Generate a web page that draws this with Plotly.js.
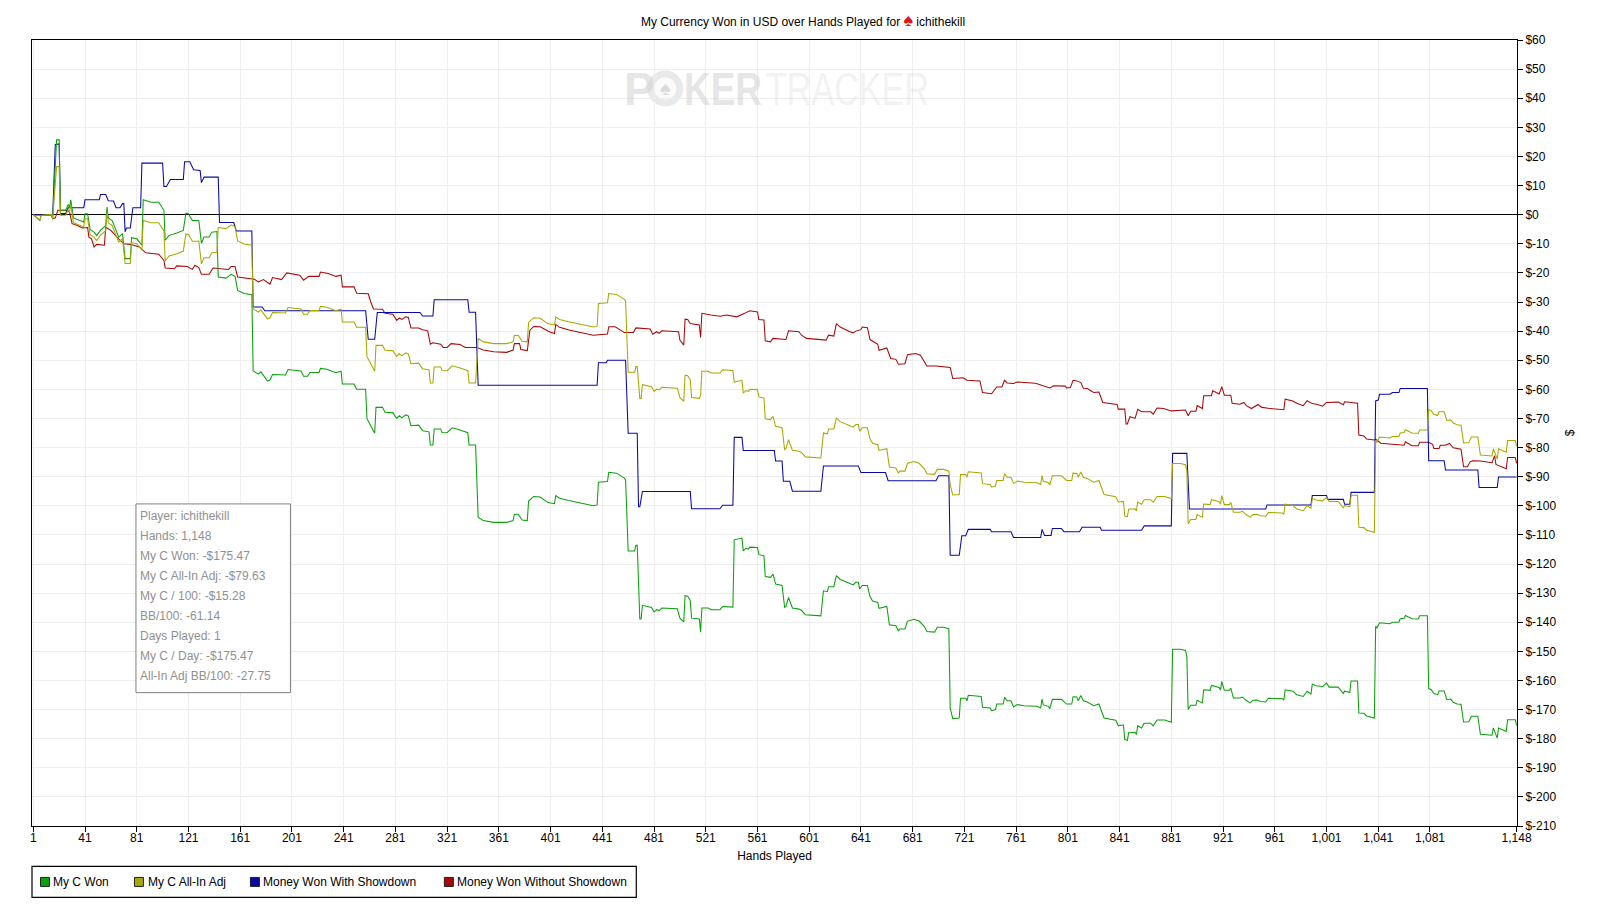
<!DOCTYPE html>
<html>
<head>
<meta charset="utf-8">
<script src="https://cdn.plot.ly/plotly-3.0.1.min.js"></script>
<style>html,body{margin:0;padding:0;background:#fff}#chart{width:1606px;height:913px}</style>
</head>
<body>
<div id="chart"></div>
<script>
const wonHands = [
1,6,7,15,16,19,21,22,26,28,29,30,32,36,40,41,43,45,48,50,53,57,58,59,62,65,67,70,72,76,77,81,85,
86,92,98,102,103,106,112,117,119,121,124,129,131,133,137,139,143,
144,150,154,157,159,164,170,
171,175,177,182,184,186,196,198,208,210,213,215,222,223,228,235,239,240,249,251,258,259,261,265,266,271,273,279,282,284,286,289,291,293,299,302,307,308,310,311,316,317,321,325,331,337,338,343,
345,349,357,367,372,373,376,379,383,384,388,393,399,404,405,408,415,427,434,437,438,445,446,452,458,459,461,466,467,468,
470,471,472,479,481,483,485,487,499,501,504,505,507,509,510,516,
517,518,523,525,532,534,542,
543,549,550,552,554,555,561,562,566,567,571,573,575,580,582,583,585,588,593,595,598,610,612,615,616,620,622,625,632,635,637,639,640,642,646,648,650,654,655,661,663,668,670,671,675,677,682,686,690,692,698,700,705,709,
710,712,717,718,722,723,724,734,735,741,742,745,746,751,752,754,757,759,762,767,777,780,781,782,786,787,789,796,800,804,805,808,809,811,813,816,821,825,829,838,840,844,845,847,848,853,854,855,858,860,865,867,870,876,881,
882,888,892,893,894,896,900,901,905,906,911,912,918,919,920,922,926,927,929,934,936,939,942,944,947,950,954,956,967,968,969,975,978,983,986,989,990,993,998,1001,1003,1010,1014,1015,1019,1020,1025,1026,1030,1032,1038,
1039,1040,1042,1050,1052,1057,1058,1061,1062,1067,1072,1073,1079,
1080,1082,1084,1087,1088,1092,1094,1097,1099,1102,1105,1107,1111,1113,1118,1120,1129,1130,1133,1134,1140,1141,1147,1148];
const myCWon = [
0,-2,-.3,0,-1.4,25.7,25.7,1.5,1.5,3.5,2.4,5.1,-1.1,-1.7,-2.5,.3,.3,-5.2,-6,-7.2,-5.3,-3.8,2.6,-1.1,-2,-5.4,-7.7,-6.5,-15.1,-15.1,-7.9,-8.3,-10.5,
5.1,4.3,4.3,1.5,-8.8,-7.1,-6.3,-5.4,.5,.3,-2,-2,-9.8,-7.7,-7.7,-6,-5.8,
-21.4,-21.8,-20.5,-21.2,-26,-27.1,-27.5,
-53.6,-54.8,-54,-57.1,-56.8,-54.9,-55.1,-53.2,-53.7,-55.5,-55.5,-54.2,-54.2,-52.8,-53.1,-54.3,-53.8,-58.2,-58.2,-60,-60,-70,-71.7,-75.1,-66.2,-66.2,-67.9,-68,-70,-69.1,-69.8,-68.8,-69.1,-72.5,-72.3,-74.2,-74.6,-79.1,-79.1,-73.6,-73.6,-74.8,-74.9,-73.2,-74,-74.9,-79.1,-79.1,
-103.9,-105.1,-105.7,-105.7,-105.1,-102.9,-102.9,-104.9,-105.1,-98.4,-96.8,-97,-98.9,-99.3,-96.5,-97.4,-98.2,-99.3,-100,-99.7,-91.9,-91.7,-88.5,-88.8,-90.5,-91.1,-115.5,-115.5,-113.6,-113.6,
-138.9,-138.9,-134.2,-134.9,-136.5,-135.7,-136,-135.1,-135.4,-138.6,-139.9,-130.9,-131.1,-132.5,-138.6,-138.9,
-143.4,-135.1,-135.1,-135.7,-135.7,-134.6,-134.8,
-111.7,-111.1,-115.5,-114.6,-114.9,-114.2,-114.3,-116.8,-117.2,-124.3,-124.6,-123.5,-126.9,-127.4,-134.9,-134.6,-131.5,-135.1,-135.5,-135.9,-137.4,-137.8,-129.2,-129.5,-127.8,-127.8,-124,-125.3,-126.6,-127.2,-126.3,-126.3,-128.6,-127.4,-127.4,-131.2,-132.7,-133.2,-135.2,-134.6,-140.9,-141.2,-143,-142.3,-142.3,-139.6,-139,-139.6,-141.5,-143.2,-143.4,-141.7,-141.7,-142.3,
-169.5,-173.1,-172.9,-166.1,-166.1,-167,-165.1,-165.5,-169.2,-169.5,-170.4,-170,-168.1,-168.1,-165.8,-167,-167,-169.1,-168.3,-168.7,-168.9,-169.5,-166.4,-168.4,-168.9,-169.7,-166.5,-166.5,-168.1,-168.1,-165.6,-165.7,-167,-165.2,-167,-167.4,-168.7,-168.1,-172.9,-173.7,-175.5,-175.3,-180.3,-180.6,-178,-177.8,-178.6,-175.5,-176.3,-174.7,-174.7,-175.6,-173.6,-173.6,-174.4,
-149.3,-149.3,-149.7,-151.7,-170,-168.5,-168.5,-166.8,-167.7,-163.2,-163.4,-161.7,-162.4,-163.3,-160.3,-163.4,-163.4,-162.6,-166,-166,-165.7,-166.9,-167.7,-166.8,-166.7,-167.2,-167.4,-166.1,-166.3,-166.8,-163.2,-163.7,-164.9,-165.5,-163.7,-164.7,-161.3,-161.8,-162.1,-160.9,-162.3,-162.3,-164.5,-163.7,-164.1,-160.2,-160.2,-171.2,-171.3,-172.2,-172.9,
-141.4,-142,-140.2,-140.5,-140,-140,-138.8,-138.6,-137.7,-138.8,-138.9,-137.8,-137.8,
-162.8,-163.2,-164.5,-164.9,-163.6,-163.6,-166.6,-166.4,-167.5,-168.1,-168.2,-174.3,-174.2,-172.3,-172.3,-178.5,-178.8,-176.3,-179.8,-176.3,-177.5,-173.5,-173.5,-175.47];
const myCAllInAdj = [
0,-2,-.3,0,-1.4,16.5,16.5,-.2,-.2,1.8,.7,3.4,-2.8,-3.4,-4.2,-1.4,-1.4,-6.9,-7.7,-8.9,-7,-5.5,.9,-2.8,-3.7,-7.1,-9.4,-8.2,-16.8,-16.8,-9.6,-10,-12.2,
-2,-2.8,-2.8,-5.6,-15.9,-14.2,-13.4,-12.5,-6.6,-6.8,-9.1,-9.1,-16.9,-14.8,-14.8,-13.1,-12.9,
-4.4,-4.8,-3.5,-4.2,-9,-10.1,-10.5,
-32.3,-33.5,-32.7,-35.8,-35.5,-33.6,-33.8,-31.9,-32.4,-34.2,-34.2,-32.9,-32.9,-31.5,-31.8,-33,-32.5,-36.9,-36.9,-38.7,-38.7,-48.7,-50.4,-53.8,-44.9,-44.9,-46.6,-46.7,-48.7,-47.8,-48.5,-47.5,-47.8,-51.2,-51,-52.9,-53.3,-57.8,-57.8,-52.3,-52.3,-53.5,-53.6,-51.9,-52.7,-53.6,-57.8,-57.8,
-42.5,-43.7,-44.3,-44.3,-43.7,-41.5,-41.5,-43.5,-43.7,-37,-35.4,-35.6,-37.5,-37.9,-35.1,-36,-36.8,-37.9,-38.6,-38.3,-30.5,-30.3,-27.1,-27.4,-29.1,-29.7,-54.1,-54.1,-52.2,-52.2,
-63.1,-63.1,-58.4,-59.1,-60.7,-59.9,-60.2,-59.3,-59.6,-62.8,-64.1,-55.1,-55.3,-56.7,-62.8,-63.1,
-62.1,-53.8,-53.8,-54.4,-54.4,-53.3,-53.5,
-57.5,-56.9,-61.3,-60.4,-60.7,-60,-60.1,-62.6,-63,-70.1,-70.4,-69.3,-72.7,-73.2,-80.7,-80.4,-77.3,-80.9,-81.3,-81.7,-83.2,-83.6,-75,-75.3,-73.6,-73.6,-69.8,-71.1,-72.4,-73,-72.1,-72.1,-74.4,-73.2,-73.2,-77,-78.5,-79,-81,-80.4,-86.7,-87,-88.8,-88.1,-88.1,-85.4,-84.8,-85.4,-87.3,-89,-89.2,-87.5,-87.5,-88.1,
-92.7,-96.3,-96.1,-89.3,-89.3,-90.2,-88.3,-88.7,-92.4,-92.7,-93.6,-93.2,-91.3,-91.3,-89,-90.2,-90.2,-92.3,-91.5,-91.9,-92.1,-92.7,-89.6,-91.6,-92.1,-92.9,-89.7,-89.7,-91.3,-91.3,-88.8,-88.9,-90.2,-88.4,-90.2,-90.6,-91.9,-91.3,-96.1,-96.9,-98.7,-98.5,-103.5,-103.8,-101.2,-101,-101.8,-98.7,-99.5,-97.9,-97.9,-98.8,-96.8,-96.8,-97.6,
-85.5,-85.5,-85.9,-87.9,-106.2,-104.7,-104.7,-103,-103.9,-99.4,-99.6,-97.9,-98.6,-99.5,-96.5,-99.6,-99.6,-98.8,-102.2,-102.2,-101.9,-103.1,-103.9,-103,-102.9,-103.4,-103.6,-102.3,-102.5,-103,-99.4,-99.9,-101.1,-101.7,-99.9,-100.9,-97.5,-98,-98.3,-97.1,-98.5,-98.5,-100.7,-99.9,-100.3,-96.4,-96.4,-107.4,-107.5,-108.4,-109.1,
-77.6,-78.2,-76.4,-76.7,-76.2,-76.2,-75,-74.8,-73.9,-75,-75.1,-74,-74,
-66.9,-67.3,-68.6,-69,-67.7,-67.7,-70.7,-70.5,-71.6,-72.2,-72.3,-78.4,-78.3,-76.4,-76.4,-82.6,-82.9,-80.4,-83.9,-80.4,-81.6,-77.6,-77.6,-79.63];

const showdownHands = [1,15,16,18,21,22,26,28,40,41,52,53,57,59,63,65,68,70,71,72,73,76,78,84,85,101,102,104,107,117,118,122,125,130,131,133,144,145,156,158,170,171,178,180,258,260,265,267,300,302,310,311,337,338,343,345,437,438,444,445,459,461,468,469,470,472,509,510,532,534,542,543,549,550,574,575,580,581,586,588,610,612,639,641,660,662,699,701,709,710,717,719,722,724,741,742,757,759,780,781,783,788,789,796,798,810,812,826,827,858,860,881,882,893,895,954,955,989,990,1001,1002,1014,1015,1019,1020,1038,1039,1041,1042,1050,1052,1057,1058,1079,1080,1092,1093,1118,1119,1133,1134,1148];
const wonWithShowdown = [0,0,-.2,24.1,24.3,.4,.4,2.4,2.4,5.1,5.1,6.9,6.9,4.8,4.7,2.4,2.4,3.8,3.8,-5.9,-4.6,-4.6,2.4,2.4,17.7,17.7,9.7,9.7,12.1,12.1,18.2,18.2,15.4,15.2,11,12.9,12.9,-2.7,-2.7,-5.6,-5.6,-31.7,-31.7,-33,-33,-42.8,-42.8,-33.6,-33.6,-34.8,-34.8,-29.2,-29.2,-33.5,-33.5,-58.6,-58.6,-50.9,-50.9,-50,-50,-75.1,-75.1,-100.3,-100.3,-95.1,-95.1,-101,-101,-99.8,-99.8,-76.5,-76.5,-81,-81,-84.6,-84.6,-91.6,-91.6,-95,-95,-86.3,-86.3,-88.6,-88.6,-91.4,-91.4,-89.7,-89.7,-117,-117,-110.3,-110.3,-108.1,-108.1,-108.9,-108.9,-110.9,-110.9,-108.1,-110.2,-110.2,-107.8,-107.8,-108.9,-108.9,-107.4,-107.4,-108.4,-108.4,-106.9,-106.9,-82,-82,-101.1,-101.1,-99.7,-99.7,-96.5,-96.5,-97.8,-97.8,-99.5,-99.5,-95.4,-95.4,-64,-63.7,-61.7,-61.7,-61.1,-61.1,-59.7,-59.7,-84.5,-84.5,-87.7,-87.7,-93.7,-93.7,-90.1,-90.1];

const noShowdownHands = [1,15,16,18,20,26,29,31,35,39,43,44,46,48,50,56,57,61,67,71,76,83,88,98,102,103,110,112,120,124,126,129,131,137,140,146,152,154,157,159,169,172,175,179,184,186,193,197,207,210,214,222,223,229,235,239,240,249,251,260,262,264,271,273,279,282,284,286,289,291,293,299,302,306,308,310,316,318,321,324,331,335,344,349,357,367,372,373,377,378,383,385,388,393,400,404,405,408,416,427,434,445,446,451,458,465,467,478,480,483,485,487,500,501,504,505,507,509,516,517,518,525,532,537,545,551,555,561,562,566,567,571,573,583,585,593,595,599,610,614,616,620,622,625,632,635,637,641,642,646,648,654,655,661,664,668,670,675,677,683,687,690,692,699,710,712,720,723,733,735,742,746,750,752,754,759,762,776,780,787,790,799,800,803,805,808,811,813,816,821,825,828,839,840,845,846,847,849,853,855,858,865,867,870,875,881,892,894,896,900,901,905,906,912,913,918,920,922,927,928,934,937,939,943,948,951,956,968,969,975,978,983,986,990,994,998,1001,1010,1014,1015,1025,1026,1030,1032,1038,1039,1043,1055,1061,1062,1067,1072,1073,1080,1083,1084,1088,1089,1093,1096,1099,1105,1107,1110,1112,1114,1120,1129,1131,1132,1135,1140,1141,1147,1148];
const wonWithoutShowdown = [0,0,-1.4,-1.1,1.5,1.5,.9,-3.1,-3.7,-4.6,-4.4,-7.7,-8.3,-11.1,-10.2,-10.5,-4.3,-5.4,-8.3,-10,-10.2,-11.1,-13.1,-13.6,-15.7,-18.3,-18.6,-17.6,-17.8,-18.8,-17.4,-18.2,-20.5,-20.5,-18.3,-18.6,-18.8,-17.8,-17.8,-21.4,-22,-22.2,-23.1,-22.3,-23.9,-21.6,-22.3,-20,-20.8,-22.5,-21.2,-21.2,-19.7,-20.2,-21.2,-20.8,-24.8,-24.8,-27,-27.2,-30,-32.4,-32.5,-33.9,-34.2,-36.3,-35.5,-36,-35.1,-35.3,-38.9,-38.9,-39.5,-39.9,-44.5,-44,-44.5,-45.6,-45.6,-44.3,-44.6,-45.6,-45.6,-46.5,-47.1,-47.3,-46.5,-44.3,-44.3,-46.3,-46.7,-39.7,-38.4,-38.5,-40.2,-40.8,-37.7,-38.7,-39.7,-40.8,-41.4,-41,-38.5,-38.5,-40.5,-40.5,-38.9,-39.3,-41.1,-40.2,-40.8,-39.9,-40.2,-43.1,-44.8,-35.9,-36,-37.4,-37.9,-42.2,-33.9,-34.5,-34.9,-34.5,-35.1,-33.9,-33,-33.4,-36,-36.2,-43.3,-43.7,-42.5,-42.9,-39.9,-40.2,-41.4,-42.5,-43.1,-43.1,-41.4,-41.7,-37.4,-38.6,-40.1,-40.6,-40,-39.5,-38.6,-38.8,-42.9,-44.5,-46.6,-45.8,-49.4,-49.7,-51.4,-51.2,-48.1,-47.7,-48.3,-50.3,-52,-52,-52.5,-56.3,-56,-56.9,-57.1,-61.1,-61.5,-59.2,-59.2,-56.9,-57.8,-58,-57.5,-57.9,-58.4,-59.5,-58.8,-58.9,-59.5,-59.4,-56.9,-57.1,-57.7,-59.6,-59.7,-61.1,-60.9,-64.5,-65.2,-66.8,-66.8,-71.9,-71.9,-69.4,-70,-66.9,-67.7,-67.7,-68.5,-66.4,-66.6,-67.4,-67.1,-69.1,-67.5,-67.5,-65.6,-66.6,-62.2,-62.2,-60.5,-61.6,-59.1,-62,-62,-64.8,-65.1,-64.5,-65.6,-66.6,-65.2,-66.2,-66.5,-67,-63.4,-64,-64.8,-65.6,-63.9,-64.9,-65.2,-65.8,-64.5,-64.4,-65.3,-64.3,-64.8,-75.7,-76,-77.1,-77.4,-77.1,-78.5,-78.9,-79.2,-78,-79.4,-79.4,-78.2,-78.2,-78.9,-80.3,-80.3,-79.2,-79.2,-78.6,-80.1,-80.6,-86.6,-86.6,-84.9,-84.5,-84.6,-85.2,-82.8,-85.8,-86.4,-87.3,-83.4,-83.4,-85.4];

const xTickVals = [1,41,81,121,161,201,241,281,321,361,401,441,481,521,561,601,641,681,721,761,801,841,881,921,961,1001,1041,1081,1148];
const xTickText = ['1','41','81','121','161','201','241','281','321','361','401','441','481','521','561','601','641','681','721','761','801','841','881','921','961','1,001','1,041','1,081','1,148'];
const yTickVals = [60,50,40,30,20,10,0,-10,-20,-30,-40,-50,-60,-70,-80,-90,-100,-110,-120,-130,-140,-150,-160,-170,-180,-190,-200,-210];
const yTickText = ['$60','$50','$40','$30','$20','$10','$0','$-10','$-20','$-30','$-40','$-50','$-60','$-70','$-80','$-90','$-100','$-110','$-120','$-130','$-140','$-150','$-160','$-170','$-180','$-190','$-200','$-210'];
const seriesNames = ['My C Won','My C All-In Adj','Money Won With Showdown','Money Won Without Showdown'];
const seriesColors = ['#0ca00c','#a8a800','#0808a8','#a80808'];
const summaryLines = ['Player: ichithekill','Hands: 1,148','My C Won: -$175.47','My C All-In Adj: -$79.63','My C / 100: -$15.28','BB/100: -61.14','Days Played: 1','My C / Day: -$175.47','All-In Adj BB/100: -27.75'];

const W = 1606, H = 913, L = 31.5, R = 1517, T = 39.5, B = 826.5;
const px = x => (x - L) / (R - L);
const py = y => (B - y) / (B - T);
const FONT = '"Liberation Sans", Arial, sans-serif';

const line = (name, x, y, color) => ({type:'scatter', mode:'lines', name, x, y, showlegend:false, hoverinfo:'skip',
  line:{color, width:1.05, shape:'linear'}});

const traces = [
  line(seriesNames[3], noShowdownHands, wonWithoutShowdown, seriesColors[3]),
  line(seriesNames[2], showdownHands, wonWithShowdown, seriesColors[2]),
  line(seriesNames[0], wonHands, myCWon, seriesColors[0]),
  line(seriesNames[1], wonHands, myCAllInAdj, seriesColors[1])
];

const rect = (x0,y0,x1,y1,lineColor,fill,layer,w) => ({type:'rect',xref:'paper',yref:'paper',x0:px(x0),x1:px(x1),y0:py(y0),y1:py(y1),
  line:{color:lineColor,width:w===undefined?1:w},fillcolor:fill,layer:layer||'above'});
const circle = (cx,cy,r,fill) => ({type:'circle',xref:'paper',yref:'paper',x0:px(cx-r),x1:px(cx+r),y0:py(cy-r),y1:py(cy+r),
  line:{width:0},fillcolor:fill,layer:'below'});

const shapes = [
  rect(135.5,504,290,693,'#808080','#ffffff','above',1),
  rect(31.5,867,636,898,'#000000','#ffffff','above',1.2),
  circle(665,88,18,'rgba(215,215,215,0.55)'),
  circle(665,88,11,'rgba(255,255,255,0.8)')
];
const legendSwatchX = [40,134,250,444];
const legendTextX = [53,147.5,263,457];
seriesNames.forEach((n,i)=>shapes.push(rect(legendSwatchX[i],878,legendSwatchX[i]+9,887,'#202020',seriesColors[i],'above',1)));

const note = (text,x,y,color,size,anchor,extra) => Object.assign({xref:'paper',yref:'paper',x:px(x),y:py(y),text,showarrow:false,
  xanchor:anchor||'left',yanchor:'middle',font:{family:FONT,size:size||12,color:color||'#000'},align:'left',borderpad:0,borderwidth:0},extra||{});

const annotations = [];
summaryLines.forEach((t,i)=>annotations.push(note(t,140,516+i*20,'#909090',12)));
seriesNames.forEach((n,i)=>annotations.push(note(n,legendTextX[i],883,'#000',12)));
const wmBold = {family:FONT,size:46,weight:700,color:'rgba(205,205,205,0.5)'};
const wmLight = {family:FONT,size:46,color:'rgba(205,205,205,0.25)'};
annotations.push(note('P',624,89,'',46,'left',{font:wmBold}));
annotations.push(note('♠',665,88,'rgba(205,205,205,0.7)',20,'center'));
annotations.push(note('KER',684,89,'',46,'left',{font:wmBold,width:78}));
annotations.push(note('TRACKER',766,89,'',46,'left',{font:wmLight,width:163}));

const layout = {
  width:W, height:H, paper_bgcolor:'#fff', plot_bgcolor:'#fff', showlegend:false,
  margin:{l:L, r:W-R, t:T, b:H-B, pad:0},
  font:{family:FONT,size:12,color:'#000'},
  title:{text:'My Currency Won in USD over Hands Played for <span style="color:#d81818;font-size:18px">♠</span> ichithekill',
    x:0.5, xref:'container', xanchor:'center', y:1-21.5/H, yref:'container', yanchor:'middle', font:{family:FONT,size:12,color:'#000'}},
  xaxis:{range:[0,1148.3], tickmode:'array', tickvals:xTickVals, ticktext:xTickText, ticks:'outside', ticklen:5, tickcolor:'#000', tickwidth:1,
    ticklabelstandoff:-4, tickangle:0, showgrid:true, gridcolor:'#eeeeee', gridwidth:1, zeroline:false, showline:true, linecolor:'#000', linewidth:1, mirror:true,
    automargin:false, tickfont:{family:FONT,size:12,color:'#000'},
    title:{text:'Hands Played', standoff:7, font:{family:FONT,size:12,color:'#000'}}},
  yaxis:{range:[-210,60], side:'right', tickmode:'array', tickvals:yTickVals, ticktext:yTickText, ticks:'outside', ticklen:5, tickcolor:'#000', tickwidth:1,
    showgrid:true, gridcolor:'#eeeeee', gridwidth:1, zeroline:true, zerolinecolor:'#000', zerolinewidth:1, showline:true, linecolor:'#000', linewidth:1, mirror:true,
    automargin:false, tickfont:{family:FONT,size:12,color:'#000'},
    title:{text:'$', standoff:10, font:{family:FONT,size:12,color:'#000'}}},
  shapes, annotations
};
const wmWidths = {KER:78, TRACKER:163};
Plotly.newPlot('chart', traces, layout, {displayModeBar:false, staticPlot:true}).then(()=>{
  document.querySelectorAll('#chart .annotation-text').forEach(t=>{
    const w = wmWidths[t.textContent];
    if (w) { t.setAttribute('textLength', w); t.setAttribute('lengthAdjust','spacingAndGlyphs'); }
  });
});
</script>
</body>
</html>
